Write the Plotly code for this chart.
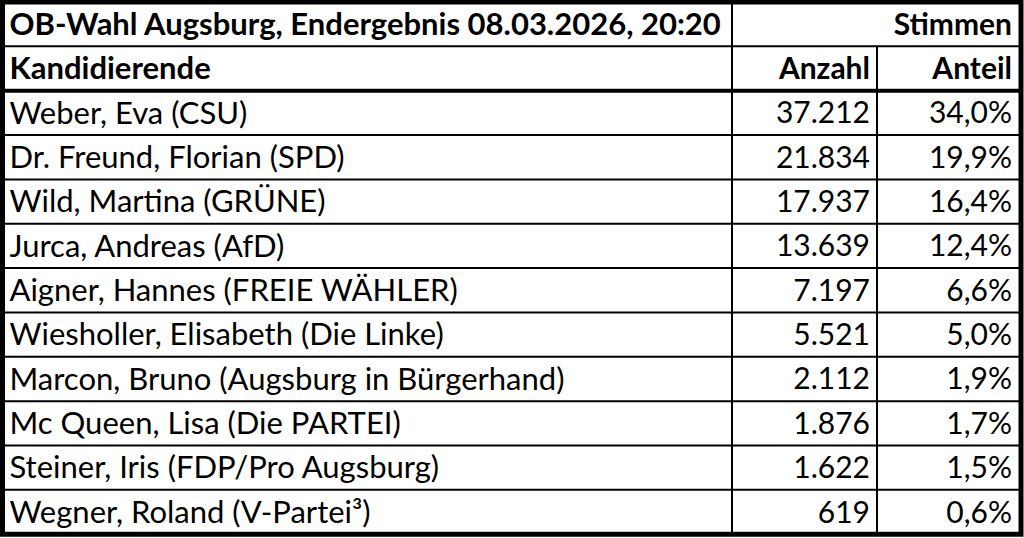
import plotly.graph_objects as go

# table content
title_text   = "OB-Wahl Augsburg, Endergebnis 08.03.2026, 20:20"
group_label  = "Stimmen"
col_labels   = ["Kandidierende", "Anzahl", "Anteil"]
candidates   = [
    "Weber, Eva (CSU)",
    "Dr. Freund, Florian (SPD)",
    "Wild, Martina (GRÜNE)",
    "Jurca, Andreas (AfD)",
    "Aigner, Hannes (FREIE WÄHLER)",
    "Wiesholler, Elisabeth (Die Linke)",
    "Marcon, Bruno (Augsburg in Bürgerhand)",
    "Mc Queen, Lisa (Die PARTEI)",
    "Steiner, Iris (FDP/Pro Augsburg)",
    "Wegner, Roland (V-Partei³)",
]
votes  = [37212, 21834, 17937, 13639, 7197, 5521, 2112, 1876, 1622, 619]
shares = [34.0, 19.9, 16.4, 12.4, 6.6, 5.0, 1.9, 1.7, 1.5, 0.6]

# german number format
votes_txt  = ["{:,}".format(v).replace(",", ".") for v in votes]
shares_txt = ["{:.1f}%".format(s).replace(".", ",") for s in shares]

W, H     = 1024, 538
left     = 2.5
right    = 1021
top      = 2
row_h    = 44.35
n_rows   = 2 + len(candidates)
bottom   = top + n_rows * row_h
col_x    = [left, 732, 877, right]
pad      = 7
FONT     = "Lato"
FS_TEXT  = 31
FS_NUM   = 30
y_shift  = 3


def row_mid(i):
    return top + (i + 0.5) * row_h + y_shift


fig = go.Figure()

# left column: title, header, candidate names
left_txt = ["<b>" + title_text + "</b>", "<b>" + col_labels[0] + "</b>"] + candidates
fig.add_trace(go.Scatter(
    x=[col_x[0] + pad] * len(left_txt),
    y=[row_mid(i) for i in range(len(left_txt))],
    text=left_txt,
    mode="text",
    textposition="middle right",
    textfont=dict(family=FONT, size=FS_TEXT, color="black"),
    hoverinfo="skip",
))

# Anzahl column
mid_txt = ["<b>" + col_labels[1] + "</b>"] + votes_txt
fig.add_trace(go.Scatter(
    x=[col_x[2] - pad] * len(mid_txt),
    y=[row_mid(i + 1) for i in range(len(mid_txt))],
    text=mid_txt,
    mode="text",
    textposition="middle left",
    textfont=dict(family=FONT, size=FS_NUM, color="black"),
    hoverinfo="skip",
))

# Anteil column (with merged "Stimmen" above)
right_txt = ["<b>" + group_label + "</b>", "<b>" + col_labels[2] + "</b>"] + shares_txt
fig.add_trace(go.Scatter(
    x=[col_x[3] - pad - 2] * len(right_txt),
    y=[row_mid(i) for i in range(len(right_txt))],
    text=right_txt,
    mode="text",
    textposition="middle left",
    textfont=dict(family=FONT, size=FS_NUM, color="black"),
    hoverinfo="skip",
))

shapes = []
# horizontal grid lines
for k in range(1, n_rows):
    y = top + k * row_h
    shapes.append(dict(type="line", x0=left, x1=right, y0=y, y1=y,
                       line=dict(color="black", width=4 if k == 2 else 2)))
# vertical lines
shapes.append(dict(type="line", x0=col_x[1], x1=col_x[1], y0=top, y1=bottom,
                   line=dict(color="black", width=2)))
shapes.append(dict(type="line", x0=col_x[2], x1=col_x[2], y0=top + row_h, y1=bottom,
                   line=dict(color="black", width=2)))
# outer border
shapes.append(dict(type="rect", x0=left, x1=right, y0=top, y1=bottom,
                   line=dict(color="black", width=5)))

fig.update_layout(
    width=W,
    height=H,
    margin=dict(l=0, r=0, t=0, b=0),
    paper_bgcolor="white",
    plot_bgcolor="white",
    showlegend=False,
    shapes=shapes,
    xaxis=dict(range=[0, W], visible=False, fixedrange=True),
    yaxis=dict(range=[H, 0], visible=False, fixedrange=True),
)

fig.write_html("out.html", post_script="document.body.style.margin='0';",
               config={"displayModeBar": False})
